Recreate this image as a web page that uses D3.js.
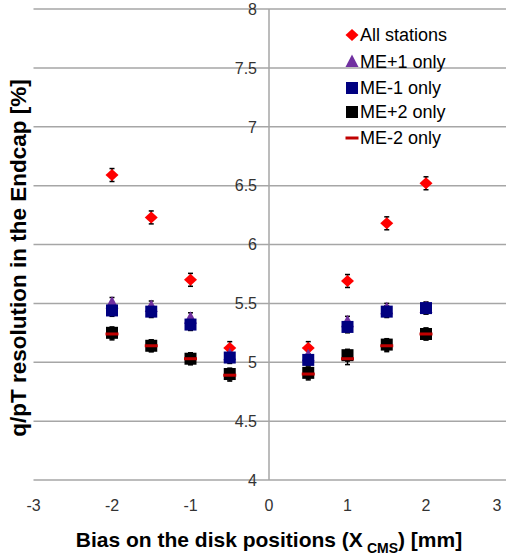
<!DOCTYPE html>
<html><head><meta charset="utf-8">
<script src="https://cdn.jsdelivr.net/npm/d3@7"></script>
<style>body{margin:0;background:#fff}svg{display:block;font-family:"Liberation Sans",Arial,sans-serif}</style>
</head><body><svg id="c" width="506" height="560"></svg>
<script>
const biases = [-2, -1.5, -1, -0.5, 0.5, 1, 1.5, 2];
const allStations = [6.59, 6.23, 5.70, 5.12, 5.12, 5.69, 6.18, 6.52];
const mePlus1 = [5.50, 5.47, 5.37, 5.06, 5.05, 5.34, 5.45, 5.46];
const meMinus1 = [5.44, 5.43, 5.32, 5.04, 5.02, 5.30, 5.43, 5.46];
const mePlus2 = [5.25, 5.14, 5.03, 4.90, 4.91, 5.06, 5.15, 5.24];
const meMinus2 = [5.24, 5.14, 5.03, 4.89, 4.90, 5.03, 5.14, 5.24];
const errAll = [0.055, 0.055, 0.055, 0.055, 0.055, 0.055, 0.055, 0.055];
const errStation = [0.05, 0.05, 0.05, 0.05, 0.05, 0.05, 0.05, 0.05];
const seriesNames = ["All stations", "ME+1 only", "ME-1 only", "ME+2 only", "ME-2 only"];
const xTicks = [-3, -2, -1, 0, 1, 2, 3];
const yTicks = [4, 4.5, 5, 5.5, 6, 6.5, 7, 7.5, 8];

const series = [
  {name: seriesNames[0], values: allStations, err: errAll, shape: "diamond", color: "#ff0000"},
  {name: seriesNames[1], values: mePlus1, err: errStation, shape: "triangle", color: "#7030a0"},
  {name: seriesNames[2], values: meMinus1, err: errStation, shape: "square", color: "#000080"},
  {name: seriesNames[3], values: mePlus2, err: errStation, shape: "square", color: "#000000"},
  {name: seriesNames[4], values: meMinus2, err: errStation, shape: "dash", color: "#c00000"}
];

const svg = d3.select("#c");
const x = d3.scaleLinear().domain([-3, 3]).range([33.5, 504.5]);
const y = d3.scaleLinear().domain([4, 8]).range([480, 9]);
const grid = "#a6a6a6";

svg.append("g").selectAll("line").data(yTicks).join("line")
  .attr("x1", x(-3)).attr("x2", 506).attr("y1", d => y(d)).attr("y2", d => y(d))
  .attr("stroke", grid).attr("stroke-width", 1.5);
svg.append("line").attr("x1", x(0)).attr("x2", x(0)).attr("y1", y(8)).attr("y2", y(4))
  .attr("stroke", grid).attr("stroke-width", 1.5);

svg.append("g").selectAll("text").data(yTicks).join("text")
  .attr("x", x(0) - 12).attr("y", d => y(d)).attr("dy", "0.36em")
  .attr("text-anchor", "end").attr("font-size", 16).attr("fill", "#333")
  .text(d => d3.format("")(d));
svg.append("g").selectAll("text").data(xTicks).join("text")
  .attr("x", d => Math.min(x(d), 497)).attr("y", 505).attr("dy", "0.36em")
  .attr("text-anchor", "middle").attr("font-size", 16).attr("fill", "#333")
  .text(d => d);

const xt = svg.append("text").attr("x", 269).attr("y", 547).attr("text-anchor", "middle")
  .attr("font-size", 21).attr("font-weight", "bold").attr("fill", "#000");
xt.append("tspan").text("Bias on the disk positions (X");
xt.append("tspan").attr("font-size", 14).attr("dy", 6).attr("dx", 4).text("CMS");
xt.append("tspan").attr("dy", -6).text(") [mm]");

svg.append("text").attr("transform", "translate(26,258) rotate(-90)")
  .attr("text-anchor", "middle").attr("font-size", 22.5).attr("font-weight", "bold")
  .attr("fill", "#000").text("q/pT resolution in the Endcap [%]");

function drawMarker(g, shape, color) {
  if (shape === "diamond") {
    g.append("path").attr("d", "M0,-6L6.5,0L0,6L-6.5,0Z").attr("fill", color);
  } else if (shape === "triangle") {
    g.append("path").attr("d", "M0,-7.5L6.5,5L-6.5,5Z").attr("fill", color);
  } else if (shape === "square") {
    g.append("rect").attr("x", -6).attr("y", -6).attr("width", 12).attr("height", 12).attr("fill", color);
  } else if (shape === "dash") {
    g.append("rect").attr("x", -6.5).attr("y", -1.5).attr("width", 13).attr("height", 3).attr("fill", color);
  }
}

const errLayer = svg.append("g");
const markLayer = svg.append("g");
series.forEach(s => {
  const pts = biases.map((b, i) => ({b, v: s.values[i], e: s.err[i]}));
  const eb = errLayer.append("g").selectAll("g").data(pts).join("g");
  eb.append("line").attr("x1", d => x(d.b)).attr("x2", d => x(d.b))
    .attr("y1", d => y(d.v + d.e)).attr("y2", d => y(d.v - d.e)).attr("stroke", "#000").attr("stroke-width", 1.5);
  eb.append("line").attr("x1", d => x(d.b) - 2.5).attr("x2", d => x(d.b) + 2.5)
    .attr("y1", d => y(d.v + d.e)).attr("y2", d => y(d.v + d.e)).attr("stroke", "#000").attr("stroke-width", 1.5);
  eb.append("line").attr("x1", d => x(d.b) - 2.5).attr("x2", d => x(d.b) + 2.5)
    .attr("y1", d => y(d.v - d.e)).attr("y2", d => y(d.v - d.e)).attr("stroke", "#000").attr("stroke-width", 1.5);
  const g = markLayer.append("g");
  pts.forEach(d => {
    const m = g.append("g").attr("transform", `translate(${x(d.b)},${y(d.v)})`);
    drawMarker(m, s.shape, s.color);
  });
});

const legY = [35, 62, 88, 112, 138];
series.forEach((s, i) => {
  const m = svg.append("g").attr("transform", `translate(352,${legY[i]})`);
  drawMarker(m, s.shape, s.color);
  svg.append("text").attr("x", 360).attr("y", legY[i]).attr("dy", "0.36em")
    .attr("font-size", 18).attr("fill", "#000").text(s.name);
});
</script></body></html>
